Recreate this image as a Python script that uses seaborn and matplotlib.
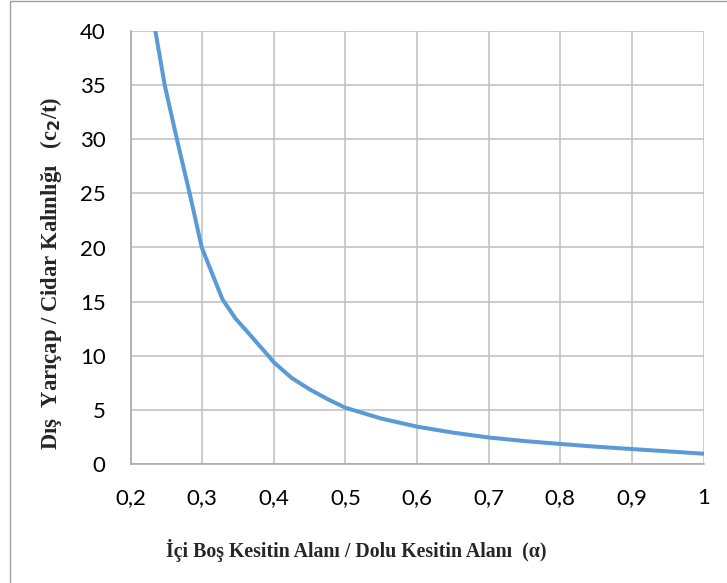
import matplotlib
matplotlib.use("Agg")
import matplotlib.pyplot as plt
import seaborn as sns
import pandas as pd
from matplotlib.patches import Rectangle

alpha = [0.2347, 0.2478, 0.2648, 0.2826, 0.2995, 0.317, 0.3285, 0.3465, 0.365,
         0.3924, 0.40, 0.425, 0.45, 0.475, 0.50, 0.55, 0.60, 0.65, 0.70, 0.75,
         0.80, 0.85, 0.90, 0.95, 1.00]
ratio = [40.0, 35.0, 30.0, 25.0, 20.0, 17.1, 15.2, 13.45, 12.07,
         10.0, 9.4, 7.95, 6.9, 6.0, 5.2, 4.2, 3.45, 2.9, 2.45, 2.12,
         1.85, 1.6, 1.38, 1.17, 0.95]
xticks = [0.2, 0.3, 0.4, 0.5, 0.6, 0.7, 0.8, 0.9, 1.0]
xtick_labels = ["0,2", "0,3", "0,4", "0,5", "0,6", "0,7", "0,8", "0,9", "1"]
yticks = [0, 5, 10, 15, 20, 25, 30, 35, 40]

df = pd.DataFrame({"alpha": alpha, "ratio": ratio})

sns.set_theme(style="white")
plt.rcParams["font.family"] = ["Lato", "DejaVu Sans"]

fig = plt.figure(figsize=(7.27, 5.83), dpi=100)
fig.patches.append(Rectangle((10 / 727, -0.1), 1.2, 1.1 - 1.5 / 583,
                             transform=fig.transFigure, fill=False,
                             edgecolor="#a0a0a0", linewidth=1.0))
ax = fig.add_axes([130.5 / 727, 119 / 583, 573 / 727, 433 / 583])

sns.lineplot(data=df, x="alpha", y="ratio", ax=ax, color="#5b9bd5",
             linewidth=2.9, sort=False)
for l in ax.lines:
    l.set_solid_joinstyle("round")
    l.set_solid_capstyle("round")

ax.set_xlim(0.2, 1.0)
ax.set_ylim(0, 40)
ax.set_xticks(xticks)
ax.set_xticklabels(xtick_labels)
ax.set_yticks(yticks)
ax.grid(True, color="#bfbfbf", linewidth=1.1)
ax.set_axisbelow(True)
for side in ["top", "right"]:
    ax.spines[side].set_visible(False)
for side in ["left", "bottom"]:
    ax.spines[side].set_color("#a6a6a6")
    ax.spines[side].set_linewidth(1.1)
ax.tick_params(axis="both", length=0, labelsize=16, colors="black")
ax.tick_params(axis="x", pad=17)
ax.tick_params(axis="y", pad=18)
ax.set_xlabel("")
ax.set_ylabel("")

serif = ["Liberation Serif", "DejaVu Serif"]
fig.text(356 / 727, 1 - 550 / 583,
         "İçi Boş Kesitin Alanı / Dolu Kesitin Alanı  (α)",
         family=serif, fontweight="bold", fontsize=14.3,
         ha="center", va="center")
fig.text(51 / 727, 1 - 273 / 583,
         "Dış  Yarıçap / Cidar Kalınlığı   (c$_\\mathbf{2}$/t)",
         family=serif, fontweight="bold", fontsize=16.3, rotation=90,
         ha="center", va="center")

fig.savefig("out.png", dpi=100)
